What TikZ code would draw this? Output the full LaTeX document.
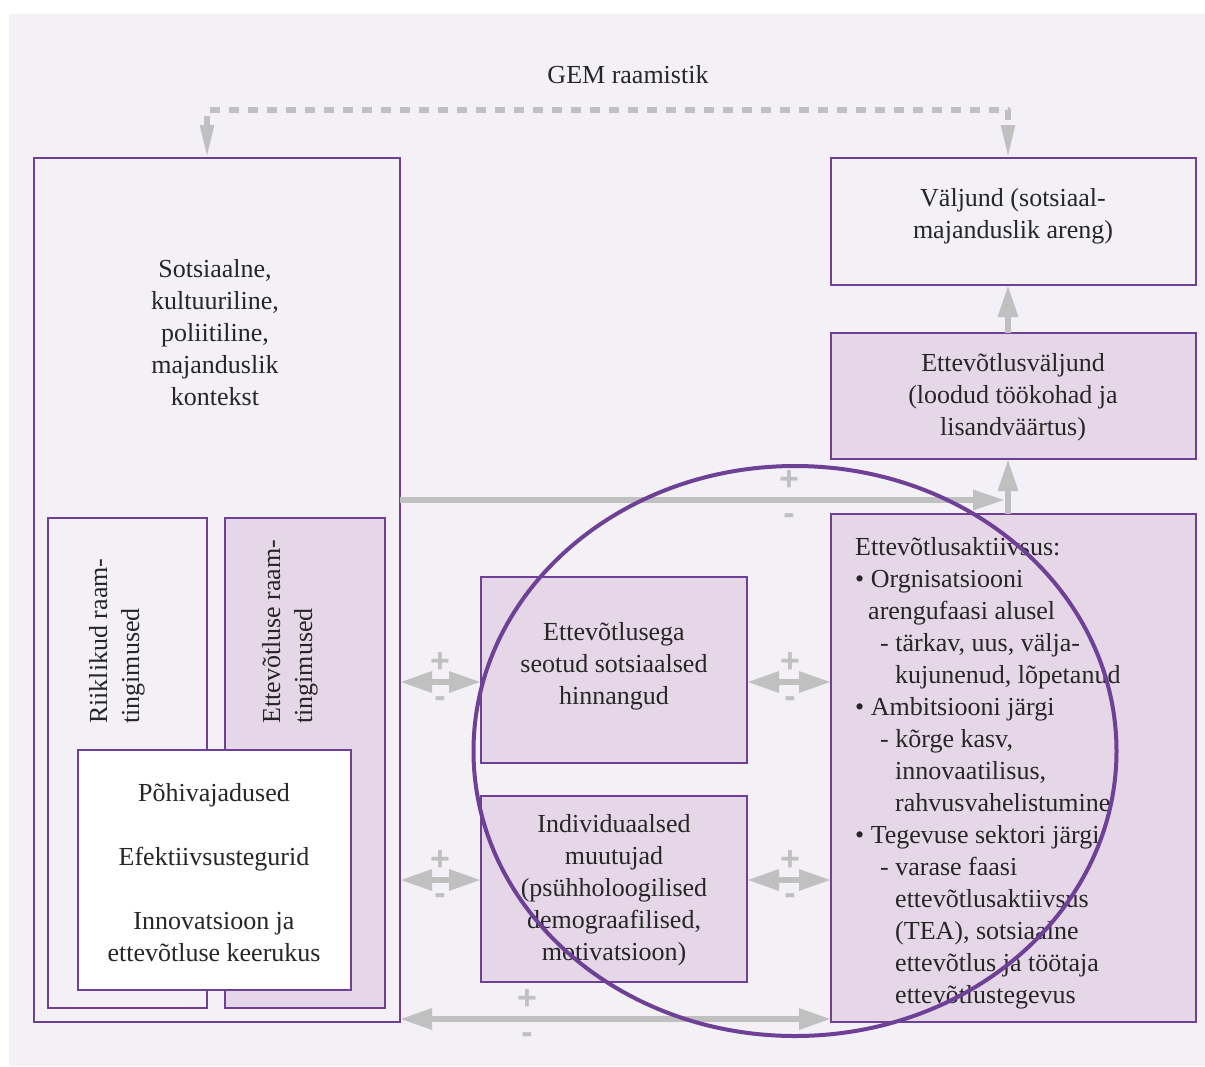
\documentclass[tikz,border=0pt]{standalone}
\usepackage{fontspec}
\setmainfont{Liberation Serif}
\setsansfont{Liberation Sans}
\usetikzlibrary{arrows.meta,calc}
\definecolor{bgc}{RGB}{243,241,245}
\definecolor{lpur}{RGB}{229,215,231}
\definecolor{pur}{RGB}{110,64,150}
\definecolor{gar}{RGB}{192,192,192}
\begin{document}
\begin{tikzpicture}[x=1pt,y=-1pt,
  box/.style={draw=pur,line width=2.6pt,anchor=north west,inner sep=0pt,outer sep=0pt},
  txt/.style={font=\fontsize{26}{32}\selectfont,text=black!85,align=center,inner sep=0pt},
  garrow/.style={draw=gar,line width=6pt,-{Triangle[length=32pt,width=19pt]}},
  gdbl/.style={draw=gar,line width=6pt,{Triangle[length=32pt,width=20pt]}-{Triangle[length=32pt,width=20pt]}},
  gdash/.style={draw=gar,line width=5.5pt,dash pattern=on 10pt off 9pt,line join=round,
     {Triangle[length=33pt,width=13pt]}-{Triangle[length=33pt,width=13pt]}},
  pm/.style={font=\fontsize{34}{34}\sffamily\bfseries\selectfont,text=gar,inner sep=0pt,
     text height=18pt,text depth=0pt}]
\useasboundingbox (0,0) rectangle (1205,1066);
\fill[white] (0,0) rectangle (1205,1066);
\fill[bgc] (9,14) rectangle (1205,1066);

% boxes
\node[box,fill=bgc,minimum width=366pt,minimum height=864pt] (ctx) at (34,158) {};
\node[box,fill=bgc,minimum width=159pt,minimum height=490pt] (rik) at (48,518) {};
\node[box,fill=lpur,minimum width=160pt,minimum height=490pt] (ett) at (225,518) {};
\node[box,fill=white,minimum width=273pt,minimum height=240pt] (wb) at (78,750) {};
\node[box,fill=bgc,minimum width=365pt,minimum height=127pt] (valj) at (831,158) {};
\node[box,fill=lpur,minimum width=365pt,minimum height=126pt] (ev) at (831,333) {};
\node[box,fill=lpur,minimum width=365pt,minimum height=508pt] (act) at (831,514) {};
\node[box,fill=lpur,minimum width=266pt,minimum height=186pt] (mt) at (481,577) {};
\node[box,fill=lpur,minimum width=266pt,minimum height=186pt] (mb) at (481,796) {};

% texts
\node[txt] (gem) at (628,75) {GEM raamistik};
\node[txt] (ctxt) at (215,333) {Sotsiaalne,\\kultuuriline,\\poliitiline,\\majanduslik\\kontekst};
\node[txt,rotate=90,align=left,anchor=north west] (rikt) at (89,724) {Riiklikud raam-\\tingimused};
\node[txt,rotate=90,align=left,anchor=north west] (ettt) at (262,724) {Ettevõtluse raam-\\tingimused};
\node[txt] (wbt) at (214,873) {Põhivajadused\\[32pt]Efektiivsustegurid\\[32pt]Innovatsioon ja\\ettevõtluse keerukus};
\node[txt] (valjt) at (1013,216) {Väljund (sotsiaal-\\majanduslik areng)};
\node[txt] (evt) at (1013,397) {Ettevõtlusväljund\\(loodud töökohad ja\\lisandväärtus)};
\node[txt] (mtt) at (614,666) {Ettevõtlusega\\seotud sotsiaalsed\\hinnangud};
\node[txt] (mbt) at (614,890) {Individuaalsed\\muutujad\\(psühholoogilised\\demograafilised,\\motivatsioon)};
\node[txt,align=left,anchor=north west] (actt) at (855,537) {Ettevõtlusaktiivsus:\\
• Orgnisatsiooni\\
\hspace*{13pt}arengufaasi alusel\\
\hspace*{25pt}- tärkav, uus, välja-\\
\hspace*{40pt}kujunenud, lõpetanud\\
• Ambitsiooni järgi\\
\hspace*{25pt}- kõrge kasv,\\
\hspace*{40pt}innovaatilisus,\\
\hspace*{40pt}rahvusvahelistumine\\
• Tegevuse sektori järgi\\
\hspace*{25pt}- varase faasi\\
\hspace*{40pt}ettevõtlusaktiivsus\\
\hspace*{40pt}(TEA), sotsiaalne\\
\hspace*{40pt}ettevõtlus ja töötaja\\
\hspace*{40pt}ettevõtlustegevus};

% connectors
\coordinate (dl) at (207,110);
\coordinate (dr) at (1008,110);
\coordinate (vx) at (1008,500);
\coordinate (hj) at (1005,500);
\draw[gdash] (ctx.north -| dl) -- (dl) -- (dr) -- (valj.north -| dr);
\draw[garrow] (ev.north -| vx) -- (valj.south -| vx);
\draw[garrow] (act.north -| vx) -- (ev.south -| vx);
\draw[garrow] (ctx.east |- hj) -- (hj);
\draw[gdbl] ([yshift=-12pt]mt.west -| ctx.east) -- ([yshift=-12pt]mt.west);
\draw[gdbl] ([yshift=-12pt]mt.east) -- ([yshift=-12pt]mt.east -| act.west);
\draw[gdbl] ([yshift=9pt]mb.west -| ctx.east) -- ([yshift=9pt]mb.west);
\draw[gdbl] ([yshift=9pt]mb.east) -- ([yshift=9pt]mb.east -| act.west);
\draw[gdbl] ([yshift=3pt]ctx.south east) -- ([yshift=3pt]act.south west);

% signs
\node[pm] (p1) at (789,481) {+};
\node[pm] (m1) at (789,515) {-};
\node[pm] (p2) at (440,663) {+};
\node[pm] (m2) at (440,698) {-};
\node[pm] (p3) at (790,663) {+};
\node[pm] (m3) at (790,698) {-};
\node[pm] (p4) at (440,861) {+};
\node[pm] (m4) at (440,895) {-};
\node[pm] (p5) at (790,861) {+};
\node[pm] (m5) at (790,895) {-};
\node[pm] (p6) at (527,1000) {+};
\node[pm] (m6) at (527,1034) {-};

% circle
\draw[pur,line width=4pt] (795,751) ellipse [x radius=321.5, y radius=285];
\end{tikzpicture}
\end{document}
